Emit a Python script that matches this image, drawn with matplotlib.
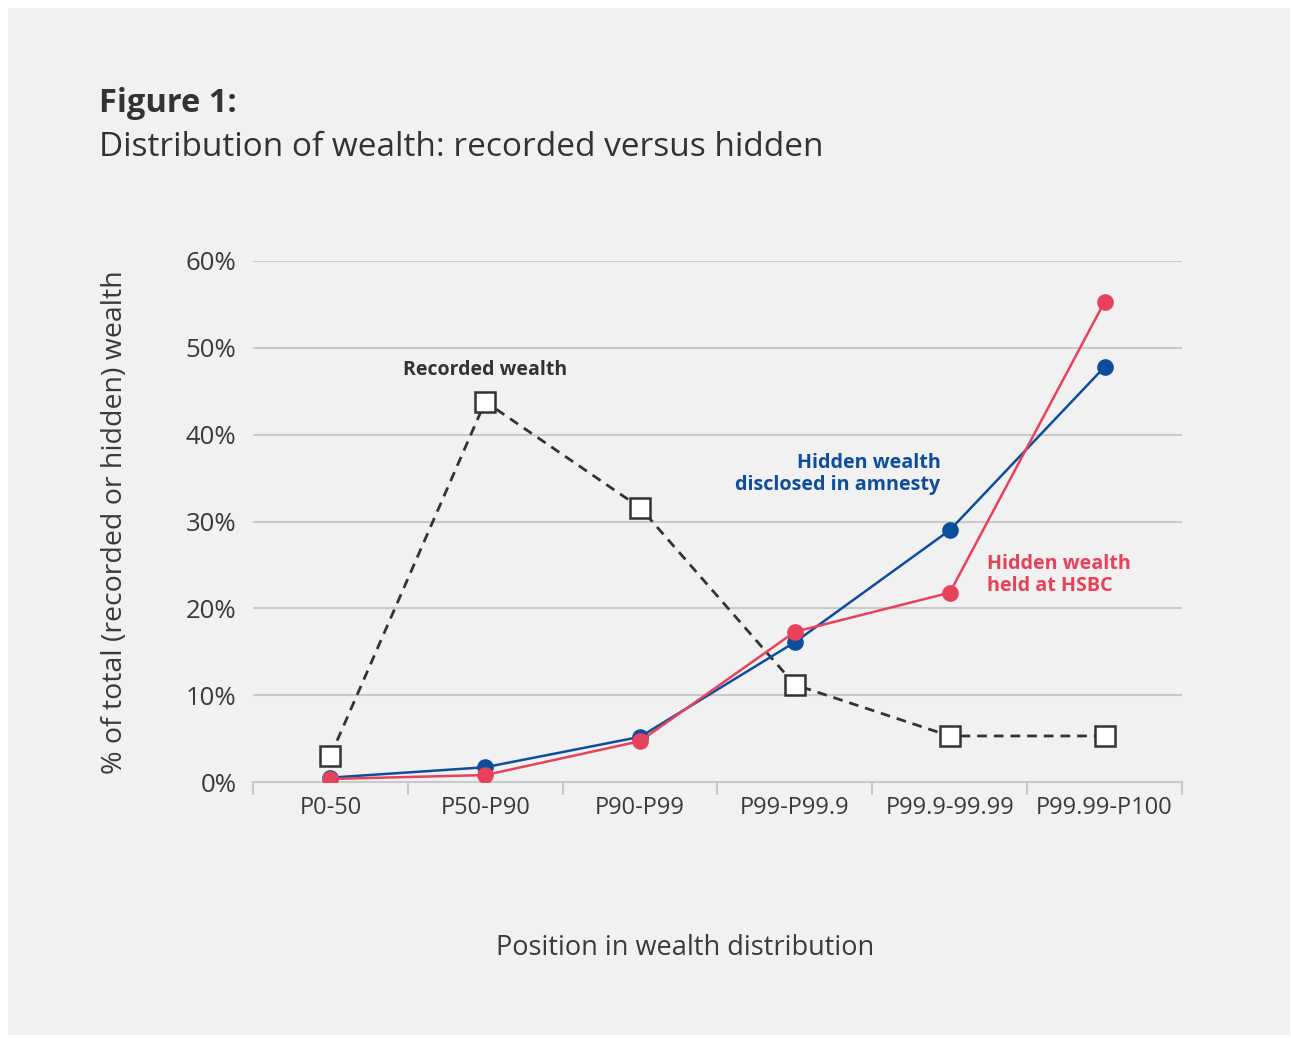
import matplotlib
matplotlib.use("Agg")
import matplotlib.pyplot as plt
from matplotlib.patches import Rectangle
from matplotlib.ticker import FixedLocator, FuncFormatter

categories = ["P0-50", "P50-P90", "P90-P99", "P99-P99.9", "P99.9-99.99", "P99.99-P100"]
recorded = [3.0, 43.8, 31.6, 11.2, 5.3, 5.3]
amnesty = [0.5, 1.7, 5.2, 16.1, 29.0, 47.8]
hsbc = [0.35, 0.8, 4.7, 17.3, 21.8, 55.3]
yticks = [0, 10, 20, 30, 40, 50, 60]

plt.rcParams['font.family'] = ['Open Sans', 'DejaVu Sans']

BLUE = "#0d4e9c"
RED = "#e8415b"
DARK = "#333333"
GRID = "#c9c9c9"
BG = "#f1f1f1"
TXT = "#3a3a3a"

fig = plt.figure(figsize=(12.91, 10.38), dpi=100)
fig.patch.set_facecolor("white")
fig.patches.append(Rectangle((8/1291, 1-1035/1038), (1290-8)/1291, (1035-8)/1038,
                             transform=fig.transFigure, facecolor=BG, edgecolor="none", zorder=-10))

ax = fig.add_axes([253/1291, 1-782/1038, (1182-253)/1291, (782-261)/1038])
ax.set_facecolor("none")
x = list(range(len(categories)))

ax.set_xlim(-0.5, len(categories) - 0.5)
ax.set_ylim(0, 60)

for y in yticks[1:]:
    ax.axhline(y, color=GRID, lw=1.5, zorder=1)

ax.plot(x, recorded, linestyle=(0, (3.5, 2.5)), color=DARK, lw=2, marker="s", markersize=14,
        markerfacecolor="white", markeredgecolor=DARK, markeredgewidth=1.8, zorder=3)
ax.plot(x, amnesty, color=BLUE, lw=1.8, marker="o", markersize=12, markeredgewidth=0, zorder=4)
ax.plot(x, hsbc, color=RED, lw=1.8, marker="o", markersize=12, markeredgewidth=0, zorder=5)

for s in ["top", "right", "left"]:
    ax.spines[s].set_visible(False)
ax.spines["bottom"].set_color(GRID)
ax.spines["bottom"].set_linewidth(1.5)

ax.yaxis.set_major_locator(FixedLocator(yticks))
ax.yaxis.set_major_formatter(FuncFormatter(lambda v, p: f"{int(v)}%"))
ax.tick_params(axis="y", length=0, pad=12, labelsize=18.5, labelcolor=TXT)

ax.set_xticks([i - 0.5 for i in range(len(categories) + 1)])
ax.set_xticklabels([])
ax.set_xticks(x, minor=True)
ax.set_xticklabels(categories, minor=True)
ax.tick_params(axis="x", which="major", length=9, width=1.5, color=GRID)
ax.tick_params(axis="x", which="minor", length=0, pad=10, labelsize=17, labelcolor=TXT)

fig.text(115/1291, 1-522/1038, "% of total (recorded or hidden) wealth", rotation=90, fontsize=20.5,
         color=TXT, ha="center", va="center")
fig.text(685/1291, 1-948/1038, "Position in wealth distribution", fontsize=19.5, color=TXT,
         ha="center", va="center")

ax.text(1.0, 47.5, "Recorded wealth", ha="center", va="center", fontsize=14, fontweight="bold", color=DARK)
ax.text(3.94, 35.5, "Hidden wealth\ndisclosed in amnesty", ha="right", va="center", fontsize=14.2,
        fontweight="bold", color=BLUE, linespacing=1.15)
ax.text(4.24, 23.8, "Hidden wealth\nheld at HSBC", ha="left", va="center", fontsize=14.2,
        fontweight="bold", color=RED, linespacing=1.15)

fig.text(99/1291, 1-103/1038, "Figure 1:", fontsize=23.5, fontweight="bold", color="#333333", va="center", ha="left")
fig.text(99/1291, 1-147/1038, "Distribution of wealth: recorded versus hidden", fontsize=24,
         color="#333333", va="center", ha="left")

fig.savefig("out.png", dpi=100, facecolor=fig.get_facecolor())
